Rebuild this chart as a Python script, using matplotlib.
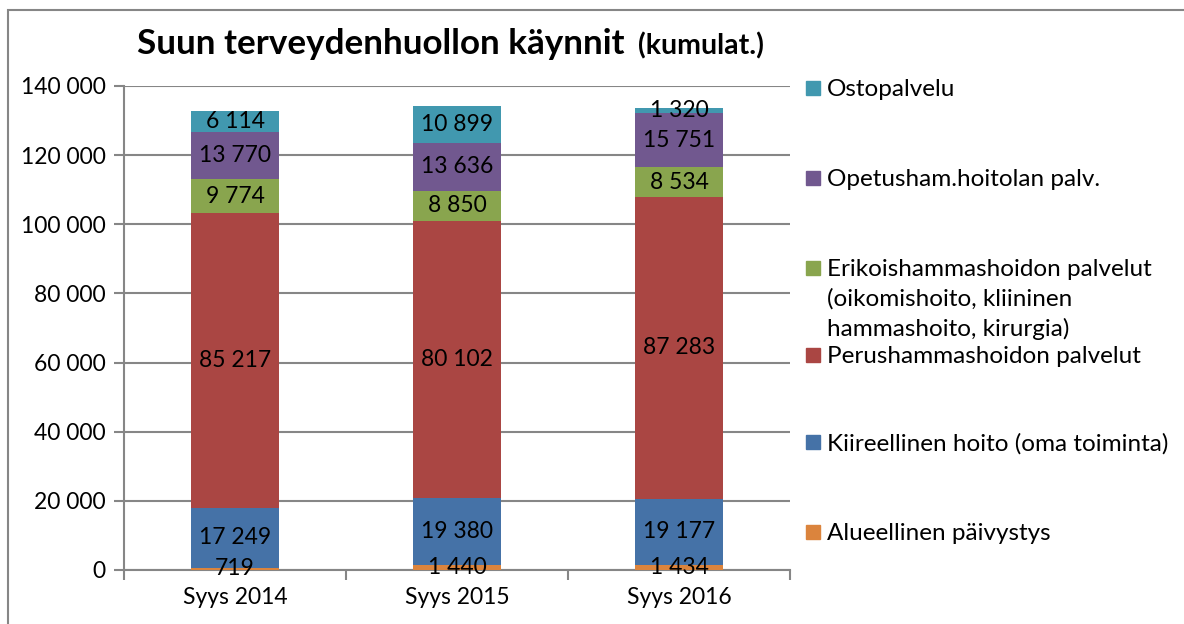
import numpy as np
import matplotlib.pyplot as plt
from matplotlib.patches import Rectangle

plt.rcParams['font.family'] = ['Lato', 'DejaVu Sans']

categories = ['Syys 2014', 'Syys 2015', 'Syys 2016']
series_names = ['Alueellinen päivystys',
                'Kiireellinen hoito (oma toiminta)',
                'Perushammashoidon palvelut',
                'Erikoishammashoidon palvelut\n(oikomishoito, kliininen\nhammashoito, kirurgia)',
                'Opetusham.hoitolan palv.',
                'Ostopalvelu']
alueellinen = [719, 1440, 1434]
kiireellinen = [17249, 19380, 19177]
perus = [85217, 80102, 87283]
erikois = [9774, 8850, 8534]
opetus = [13770, 13636, 15751]
osto = [6114, 10899, 1320]
colors = ['#DB843D', '#4572A7', '#AA4643', '#89A54E', '#71588F', '#4198AF']
yticks = [0, 20000, 40000, 60000, 80000, 100000, 120000, 140000]

def fmt(v):
    return f'{v:,}'.replace(',', ' ')

fig = plt.figure(figsize=(11.84, 6.24), dpi=100)
ax = fig.add_axes([124/1184, 1 - 570/624, 666/1184, 484/624])

x = np.arange(len(categories))
bottom = np.zeros(len(categories))
for vals, col in zip([alueellinen, kiireellinen, perus, erikois, opetus, osto], colors):
    vals = np.array(vals)
    ax.bar(x, vals, 0.4, bottom=bottom, color=col, zorder=3)
    for xi, b, v in zip(x, bottom, vals):
        ax.text(xi, b + v / 2, fmt(v), ha='center', va='center', fontsize=16.5, zorder=4)
    bottom += vals

ax.set_xlim(-0.5, 2.5)
ax.set_ylim(0, 140000)
ax.set_yticks(yticks)
ax.set_yticklabels([fmt(t) for t in yticks], fontsize=16.5)
ax.yaxis.grid(True, color='#868686', linewidth=1.5, zorder=0)
ax.set_xticks(x)
ax.set_xticklabels(categories, fontsize=16.5)
ax.set_xticks([-0.5, 0.5, 1.5, 2.5], minor=True)
ax.tick_params(axis='x', which='major', length=0, pad=12)
ax.tick_params(axis='x', which='minor', length=7, width=1.5, color='#868686')
ax.tick_params(axis='y', length=7, width=1.5, color='#868686', pad=6)
for s in ['top', 'right']:
    ax.spines[s].set_visible(False)
for s in ['left', 'bottom']:
    ax.spines[s].set_color('#868686')
    ax.spines[s].set_linewidth(1.5)

# title
fig.text(137/1184, 1 - 44/624, 'Suun terveydenhuollon käynnit', fontsize=25.2,
         fontweight='bold', va='center', ha='left')
fig.text(638/1184, 1 - 46/624, '(kumulat.)', fontsize=20.5,
         fontweight='bold', va='center', ha='left')

# legend
leg_y = [532, 442, 355, 268, 178, 88]
for name, col, yy in zip(series_names, colors, leg_y):
    fig.patches.append(Rectangle((806/1184, 1 - (yy + 7)/624), 14/1184, 14/624,
                                 transform=fig.transFigure, color=col))
    fig.text(827/1184, 1 - (yy - 9)/624, name, fontsize=17.5, va='top', ha='left',
             linespacing=1.45)

# outer border
fig.patches.append(Rectangle((8/1184, -0.05), 1.1, 1 - 10/624 + 0.05,
                             transform=fig.transFigure, fill=False,
                             edgecolor='#868686', linewidth=1.5))

fig.savefig('out.png', dpi=100)
